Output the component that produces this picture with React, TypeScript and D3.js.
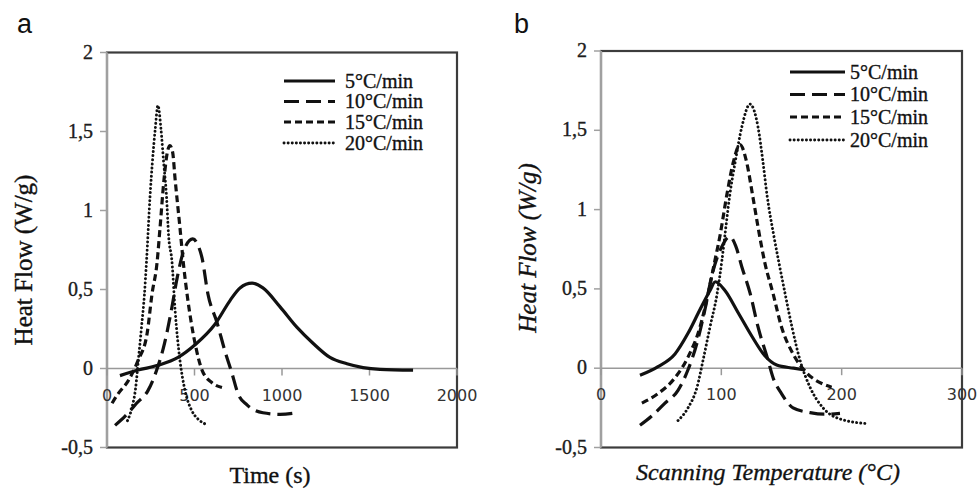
import React from "react";
import * as d3 from "d3";

// ---------- DATA ----------
const seriesLabels = ["5°C/min", "10°C/min", "15°C/min", "20°C/min"];

// Panel a : time (s) vs heat flow (W/g)
const a5Time = [74, 177, 291, 406, 503, 617, 703, 760, 829, 891, 989, 1086, 1177, 1274, 1371, 1463, 1560, 1749];
const a5Heat = [-0.045, -0.01, 0.02, 0.07, 0.15, 0.28, 0.43, 0.51, 0.54, 0.51, 0.39, 0.26, 0.16, 0.07, 0.03, 0.006, -0.005, -0.01];
const a10Time = [46, 105, 169, 234, 284, 329, 368, 402, 440, 490, 520, 543, 577, 629, 674, 714, 749, 800, 891, 989, 1086];
const a10Heat = [-0.36, -0.3, -0.22, -0.14, -0.01, 0.16, 0.37, 0.58, 0.75, 0.82, 0.78, 0.7, 0.47, 0.29, 0.11, -0.03, -0.16, -0.23, -0.28, -0.29, -0.28];
const a15Time = [29, 63, 120, 177, 229, 257, 286, 303, 326, 345, 360, 375, 389, 417, 438, 460, 480, 503, 543, 600, 657];
const a15Heat = [-0.22, -0.16, -0.08, 0.05, 0.22, 0.47, 0.67, 0.89, 1.2, 1.37, 1.41, 1.37, 1.2, 0.89, 0.65, 0.45, 0.3, 0.16, -0.01, -0.09, -0.12];
const a20Time = [117, 142, 164, 179, 197, 214, 226, 246, 259, 276, 291, 308, 324, 340, 352, 371, 389, 417, 446, 486, 520, 570];
const a20Heat = [-0.33, -0.25, -0.12, 0.05, 0.26, 0.47, 0.68, 1.09, 1.3, 1.52, 1.665, 1.52, 1.3, 1.09, 0.84, 0.68, 0.37, 0.05, -0.14, -0.27, -0.32, -0.355];

// Panel b : scanning temperature (°C) vs heat flow (W/g)
const b5Temp = [32.4, 47.4, 61.5, 72.3, 82.3, 90.6, 95, 103, 114, 125.5, 136, 146, 160, 168];
const b5Heat = [-0.045, 0.01, 0.09, 0.22, 0.37, 0.49, 0.545, 0.49, 0.35, 0.2, 0.08, 0.02, 0.0, -0.01];
const b10Temp = [32.4, 42.4, 53.2, 64, 72.3, 79.8, 86.4, 92, 100, 107, 112, 117, 124, 130.5, 138.8, 143, 150, 159.6, 173.7, 186, 198.6];
const b10Heat = [-0.36, -0.3, -0.22, -0.14, -0.01, 0.16, 0.37, 0.58, 0.76, 0.83, 0.77, 0.64, 0.47, 0.26, 0.05, -0.06, -0.16, -0.25, -0.28, -0.29, -0.285];
const b15Temp = [34, 47.4, 61.5, 72.3, 82.3, 89, 94.7, 99, 104.5, 110, 115.5, 121, 126, 130.5, 136, 143, 150, 159.6, 171, 184.5, 191.7];
const b15Heat = [-0.22, -0.16, -0.06, 0.07, 0.26, 0.47, 0.68, 0.84, 1.09, 1.3, 1.41, 1.3, 1.09, 0.89, 0.67, 0.47, 0.26, 0.09, -0.03, -0.1, -0.12];
const b20Temp = [64, 72.3, 79.8, 84.8, 90.6, 96.5, 100.5, 103, 107, 111.5, 117, 123.8, 130.5, 134.6, 138, 143.5, 147.5, 153, 158.7, 165.4, 173.7, 184.5, 198.6, 222];
const b20Heat = [-0.33, -0.25, -0.12, 0.05, 0.26, 0.47, 0.68, 0.84, 1.09, 1.3, 1.52, 1.665, 1.52, 1.3, 1.09, 0.84, 0.68, 0.47, 0.26, 0.05, -0.12, -0.25, -0.32, -0.35];

const yTicks = [-0.5, 0, 0.5, 1, 1.5, 2];
const aXTicks = [0, 500, 1000, 1500, 2000];
const bXTicks = [0, 100, 200, 300];

// ---------- STYLE ----------
const dashes = [null, "15,7", "7,4", "0.1,4"];
const SERIF = "'Liberation Serif', 'Times New Roman', serif";
const SANS_TICK = "'DejaVu Sans', Verdana, sans-serif";
const SANS = "'Liberation Sans', Arial, sans-serif";
const INK = "#111";

const fmt = (v: number) => String(v).replace(".", ",");

type PanelProps = {
  left: number; right: number; top: number; bottom: number;
  xDomain: [number, number]; xTicks: number[];
  xs: number[][]; ys: number[][];
  italic: boolean; xTitle: string; xTitleX: number; xTitleY: number;
  yTitleX: number; yTitleY: number;
  legendX1: number; legendX2: number; legendTextX: number; legendYs: number[];
  letter: string; letterX: number;
};

function Panel(p: PanelProps) {
  const x = d3.scaleLinear().domain(p.xDomain).range([p.left, p.right]);
  const y = d3.scaleLinear().domain([-0.5, 2]).range([p.bottom, p.top]);
  const line = d3.line<[number, number]>()
    .x((d) => x(d[0]))
    .y((d) => y(d[1]))
    .curve(d3.curveMonotoneX);
  const fs = p.italic ? "italic" : "normal";
  const bold = { stroke: INK, strokeWidth: 0.35 };
  return (
    <g>
      <text x={p.letterX} y={33} fontFamily={SANS} fontSize={27} fill={INK}>{p.letter}</text>
      {/* frame */}
      <rect x={p.left} y={p.top} width={p.right - p.left} height={p.bottom - p.top}
        fill="#fff" stroke="#3c3c3c" strokeWidth={2.2} />
      <line x1={p.left} x2={p.left} y1={p.top} y2={p.bottom} stroke="#a0a0a0" strokeWidth={2.2} />
      {/* y ticks */}
      {yTicks.map((t) => (
        <g key={"y" + t}>
          <line x1={p.left - 7} x2={p.left} y1={y(t)} y2={y(t)} stroke="#a0a0a0" strokeWidth={1.5} />
          <text x={p.left - 14} y={y(t) + 6} textAnchor="end" fontFamily={SERIF} fontSize={20} fill="#222" {...bold}>{fmt(t)}</text>
        </g>
      ))}
      {/* zero line */}
      <line x1={p.left} x2={p.right} y1={y(0)} y2={y(0)} stroke="#999" strokeWidth={1.6} />
      {p.xTicks.map((t) => (
        <g key={"x" + t}>
          <line x1={x(t)} x2={x(t)} y1={y(0)} y2={y(0) + 7} stroke="#999" strokeWidth={1.5} />
          <text x={x(t)} y={y(0) + 32} textAnchor="middle" fontFamily={SANS_TICK} fontSize={16} fill="#333">{t}</text>
        </g>
      ))}
      {/* curves */}
      {p.xs.map((xs, i) => {
        const pts = xs.map((v, j) => [v, p.ys[i][j]] as [number, number]);
        return (
          <path key={"c" + i} d={line(pts) || ""} fill="none" stroke={INK} strokeWidth={i === 3 ? 2.9 : 3.2}
            strokeDasharray={dashes[i] || undefined} strokeLinecap={i === 3 ? "round" : "butt"} />
        );
      })}
      {/* legend */}
      {seriesLabels.map((s, i) => (
        <g key={"l" + i}>
          <line x1={p.legendX1} x2={p.legendX2} y1={p.legendYs[i]} y2={p.legendYs[i]} stroke={INK}
            strokeWidth={i === 3 ? 2.9 : 3.2} strokeDasharray={dashes[i] || undefined}
            strokeLinecap={i === 3 ? "round" : "butt"} />
          <text x={p.legendTextX} y={p.legendYs[i] + 6.5} fontFamily={SERIF} fontSize={20} fill={INK} {...bold}>{s}</text>
        </g>
      ))}
      {/* axis titles */}
      <text transform={`translate(${p.yTitleX},${p.yTitleY}) rotate(-90)`} textAnchor="middle"
        fontFamily={SERIF} fontStyle={fs} fontSize={25} fill={INK} {...bold}>Heat Flow (W/g)</text>
      <text x={p.xTitleX} y={p.xTitleY} textAnchor="middle" fontFamily={SERIF} fontStyle={fs}
        fontSize={24} fill={INK} {...bold}>{p.xTitle}</text>
    </g>
  );
}

export default function App() {
  return (
    <svg width={978} height={489} viewBox="0 0 978 489"
      style={{ position: "absolute", left: 0, top: 0, background: "#fff" }}>
      <rect x={0} y={0} width={978} height={489} fill="#fff" />
      <Panel left={107} right={457} top={52.5} bottom={447.5}
        xDomain={[0, 2000]} xTicks={aXTicks}
        xs={[a5Time, a10Time, a15Time, a20Time]} ys={[a5Heat, a10Heat, a15Heat, a20Heat]}
        italic={false} xTitle="Time (s)" xTitleX={270} xTitleY={483}
        yTitleX={32} yTitleY={260}
        legendX1={284} legendX2={335} legendTextX={345} legendYs={[81, 101.5, 122, 143]}
        letter="a" letterX={17} />
      <Panel left={601} right={962} top={51} bottom={447.5}
        xDomain={[0, 300]} xTicks={bXTicks}
        xs={[b5Temp, b10Temp, b15Temp, b20Temp]} ys={[b5Heat, b10Heat, b15Heat, b20Heat]}
        italic={true} xTitle="Scanning Temperature (°C)" xTitleX={768} xTitleY={480}
        yTitleX={536} yTitleY={248}
        legendX1={790} legendX2={845} legendTextX={850} legendYs={[72, 94.5, 117, 140]}
        letter="b" letterX={514} />
    </svg>
  );
}
